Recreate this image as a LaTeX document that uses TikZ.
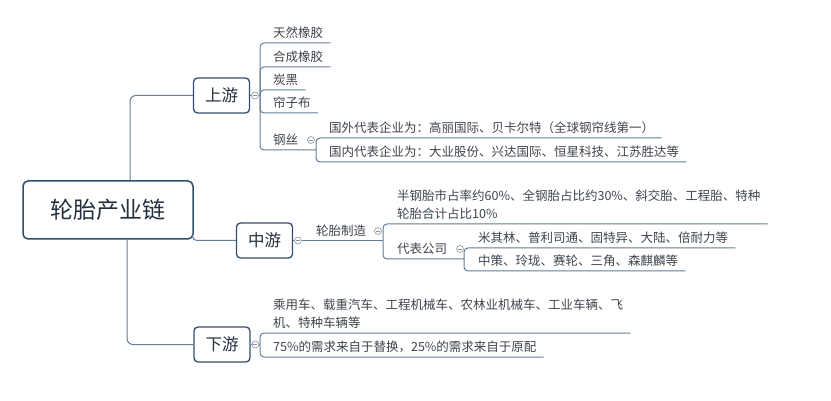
\documentclass[tikz,border=0pt]{standalone}
\usepackage{fontspec}
\setmainfont{Noto Sans CJK SC}
\usepackage{tikz}
\usetikzlibrary{positioning}
\definecolor{mapline}{RGB}{100,125,150}
\definecolor{mapedge}{RGB}{50,78,108}
\definecolor{maptext}{RGB}{36,48,62}
\definecolor{leaftext}{RGB}{62,68,78}
\definecolor{foldgray}{RGB}{135,146,158}

\begin{document}
\begin{tikzpicture}[x=1pt,y=-1pt,node distance=1pt]
\tikzstyle{rootbox}=[draw=mapedge,line width=1.5pt,rounded corners=5pt,fill=white,minimum width=170pt,minimum height=58pt,text=maptext,font=\fontsize{23}{26}\selectfont]
\tikzstyle{mainbox}=[draw=mapedge,line width=1.3pt,rounded corners=4pt,fill=white,minimum width=56pt,minimum height=35pt,text=maptext,font=\fontsize{16.5}{19}\selectfont]
\tikzstyle{leaf}=[anchor=south west,inner xsep=0pt,inner ysep=5pt,text depth=0pt,text=leaftext,align=left,font=\fontsize{12.5}{18}\selectfont]
\tikzstyle{fold}=[circle,draw=foldgray,line width=0.6pt,fill=white,minimum size=7pt,inner sep=0pt,path picture={\draw[foldgray,line width=0.6pt] ([xshift=-2pt]path picture bounding box.center) -- ([xshift=2pt]path picture bounding box.center);}]
\tikzstyle{conn}=[draw=mapline,line width=1pt,rounded corners=4pt]
\path[use as bounding box,fill=white] (0,0) rectangle (831,401);

% main topics
\node[rootbox] (root) at (108,210) {轮胎产业链};
\node[mainbox] (up) at (221.5,95.5) {上游};
\node[mainbox] (mid) at (264.5,240.5) {中游};
\node[mainbox] (down) at (222,344.5) {下游};
\node[fold,right=of up] (fU) {};
\node[fold,right=of mid] (fM) {};
\node[fold,right=of down] (fD) {};

% upstream
\coordinate (jU) at (260,95.5);
\node[leaf] (u1) at (273,43) {天然橡胶};
\node[leaf] (u2) at (273,67) {合成橡胶};
\node[leaf] (u3) at (273,90) {炭黑};
\node[leaf] (u4) at (273,113) {帘子布};
\node[leaf] (u5) at (273,150) {钢丝};
\node[fold] (fS) at (311,140) {};
\coordinate (jS) at (316,150);
\node[leaf] (s1) at (329,138) {国外代表企业为：高丽国际、贝卡尔特（全球钢帘线第一）};
\node[leaf] (s2) at (329,162) {国内代表企业为：大业股份、兴达国际、恒星科技、江苏胜达等};

% midstream
\coordinate (jM) at (383,240.5);
\node[leaf] (t) at (316,240.5) {轮胎制造};
\node[fold] (fT) at (378,231) {};
\node[leaf] (m1) at (397,224) {半钢胎市占率约60\%、全钢胎占比约30\%、斜交胎、工程胎、特种\\轮胎合计占比10\%};
\node[leaf] (m2) at (397,259) {代表公司};
\node[fold] (fR) at (460,249) {};
\coordinate (jR) at (464,259);
\node[leaf] (r1) at (478,248) {米其林、普利司通、固特异、大陆、倍耐力等};
\node[leaf] (r2) at (478,271) {中策、玲珑、赛轮、三角、森麒麟等};

% downstream
\coordinate (jD) at (260,344.5);
\node[leaf] (d1) at (273,333) {乘用车、载重汽车、工程机械车、农林业机械车、工业车辆、飞\\机、特种车辆等};
\node[leaf] (d2) at (273,357) {75\%的需求来自于替换，25\%的需求来自于原配};

% connectors
\draw[conn,rounded corners=6pt] ([xshift=22pt]root.north) |- (up);
\draw[conn,rounded corners=6pt] ([xshift=19pt]root.south) |- (down);
\draw[conn] ([xshift=-1pt,yshift=3pt]root.south east) |- (mid);
\draw[conn] (up) -- (fU);
\draw[conn] (fU) -- (jU);
\foreach \leafname in {u1,u2,u3,u4}
  \draw[conn] (jU) |- ([xshift=7pt]\leafname.south east);
\draw[conn] (jU) |- (jS);
\draw[conn] (jS) |- ([xshift=7pt]s1.south east);
\draw[conn] (jS) |- ([xshift=7pt]s2.south east);
\draw[conn] (mid) -- (fM);
\draw[conn] (fM) -- (jM);
\draw[conn] (jM) |- ([xshift=7pt]m1.south east);
\draw[conn] (jM) |- (jR);
\draw[conn] (jR) |- ([xshift=7pt]r1.south east);
\draw[conn] (jR) |- ([xshift=7pt]r2.south east);
\draw[conn] (down) -- (fD);
\draw[conn] (fD) -- (jD);
\draw[conn] (jD) |- ([xshift=7pt]d1.south east);
\draw[conn] (jD) |- ([xshift=7pt]d2.south east);
\end{tikzpicture}
\end{document}
